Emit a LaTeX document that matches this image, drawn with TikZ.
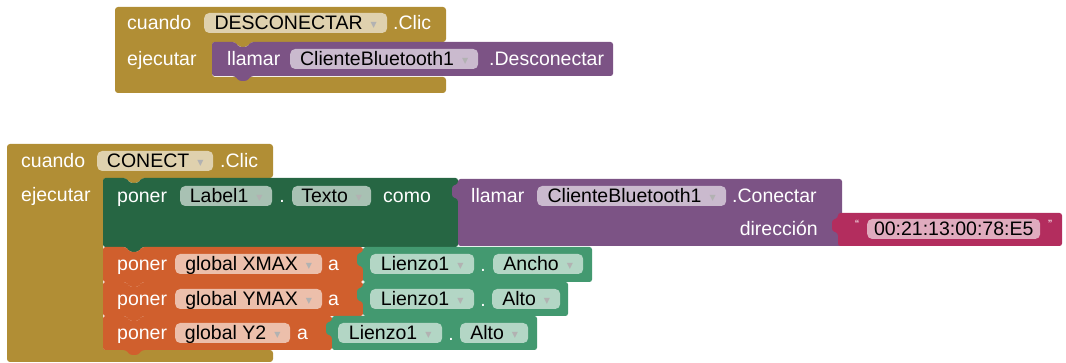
\documentclass[tikz,border=0pt]{standalone}
\usepackage{fontspec}
\setmainfont{Liberation Sans}
\newfontfamily\dv{DejaVu Sans}
\definecolor{gold}{HTML}{B18E35}
\definecolor{purp}{HTML}{7C5385}
\definecolor{dgreen}{HTML}{266643}
\definecolor{lgreen}{HTML}{439970}
\definecolor{orng}{HTML}{D05F2D}
\definecolor{mag}{HTML}{B32D5E}
\newcommand{\ddarrow}{\hspace{8pt}\raisebox{2pt}{\dv\fontsize{8}{8}\selectfont\textcolor{black!30}{▼}}}
% statement block: x0,y0,x1,y1,colour (y grows downward)
\newcommand{\stmtblk}[5]{\fill[#5, rounded corners=2.5pt] (#1,#2) -- ({#1+23},#2) -- ({#1+27},{#2+5}) -- ({#1+35},{#2+5}) -- ({#1+39},#2) -- (#3,#2) -- (#3,#4) -- ({#1+39},#4) -- ({#1+35},{#4+5}) -- ({#1+27},{#4+5}) -- ({#1+23},#4) -- (#1,#4) -- cycle;}
% value block with left tab
\newcommand{\valblk}[5]{\fill[#5, rounded corners=2.5pt] (#1,#2) -- (#3,#2) -- (#3,#4) -- (#1,#4) -- (#1,{#2+20}) -- ({#1-6},{#2+18}) -- ({#1-6},{#2+7}) -- (#1,{#2+5}) -- cycle;}
\begin{document}
\begin{tikzpicture}[x=1pt,y=-1pt,
  every node/.style={font=\fontsize{19.5}{22}\selectfont, inner sep=0pt, text height=15pt, text depth=2pt},
  lbl/.style={text=white, anchor=west},
  dot/.style={text=white, anchor=center},
  dd/.style={fill=white, fill opacity=0.6, text opacity=1, text=black, rounded corners=5pt, minimum height=20pt, anchor=west},
  qt/.style={text=white, anchor=center, font=\fontsize{12}{12}\selectfont, text height=8pt, text depth=0pt}]
\useasboundingbox (0,0) rectangle (1066,363);

% ---------- block 1 ----------
\fill[gold, rounded corners=3pt] (115,7) -- (446,7) -- (446,42) -- (251,42) -- (247,47) -- (239,47) -- (235,42) -- (212,42) -- (212,77) -- (446,77) -- (446,93) -- (115,93) -- cycle;
\stmtblk{212}{42}{613}{76}{purp}

\node[lbl] (c1) at (127,23) {cuando};
\node[dd, minimum width=183pt] (d1) at (204,23) {DESCONECTAR\ddarrow};
\node[lbl] (clic1) at (393,23) {.Clic};
\node[lbl] (e1) at (127,59) {ejecutar};
\node[lbl] (ll1) at (227,59) {llamar};
\node[dd, minimum width=188pt] (d2) at (290,59) {ClienteBluetooth1\ddarrow};
\node[lbl] (des1) at (489,59) {.Desconectar};

% ---------- block 2 ----------
\fill[gold, rounded corners=3pt] (7,144) -- (273,144) -- (273,178) -- (142,178) -- (138,183) -- (130,183) -- (126,178) -- (103,178) -- (103,350) -- (273,350) -- (273,362) -- (7,362) -- cycle;
\stmtblk{103}{178}{458}{247}{dgreen}
\valblk{458}{179}{842}{246}{purp}
\valblk{838}{213}{1062}{246}{mag}
\stmtblk{103}{247}{363}{282}{orng}
\valblk{363}{247}{592}{282}{lgreen}
\stmtblk{103}{282}{363}{316}{orng}
\valblk{363}{282}{568}{316}{lgreen}
\stmtblk{103}{316}{332}{350}{orng}
\valblk{332}{316}{537}{350}{lgreen}

\node[lbl] (c2) at (21,161) {cuando};
\node[dd, minimum width=116pt] (d3) at (97,161) {CONECT\ddarrow};
\node[lbl] (clic2) at (220,161) {.Clic};
\node[lbl] (e2) at (21,195) {ejecutar};

\node[lbl] (p0) at (117,196) {poner};
\node[dd, minimum width=92pt] (d4) at (180,196) {Label1\ddarrow};
\node[dot] (dt0) at (282,196) {.};
\node[dd, minimum width=79pt] (d5) at (292,196) {Texto\ddarrow};
\node[lbl] (como) at (383,196) {como};

\node[lbl] (ll2) at (471,196) {llamar};
\node[dd, minimum width=189pt] (d6) at (537,196) {ClienteBluetooth1\ddarrow};
\node[lbl] (con) at (732,196) {.Conectar};
\node[lbl, anchor=east] (dir) at (818,229) {dirección};

\node[qt] (q1) at (857,225) {“};
\node[dd, minimum width=173pt] (d7) at (867,229) {00:21:13:00:78:E5};
\node[qt] (q2) at (1050,225) {”};

\node[lbl] (p1) at (117,264) {poner};
\node[dd, minimum width=147pt] (d8) at (175,264) {global XMAX\ddarrow};
\node[lbl] (a1) at (328,264) {a};
\node[dd, minimum width=104pt] (d9) at (370,264) {Lienzo1\ddarrow};
\node[dot] (dt1) at (483,265) {.};
\node[dd, minimum width=90pt] (d10) at (493,264) {Ancho\ddarrow};

\node[lbl] (p2) at (117,299) {poner};
\node[dd, minimum width=147pt] (d11) at (175,299) {global YMAX\ddarrow};
\node[lbl] (a2) at (328,299) {a};
\node[dd, minimum width=104pt] (d12) at (370,299) {Lienzo1\ddarrow};
\node[dot] (dt2) at (483,300) {.};
\node[dd, minimum width=68pt] (d13) at (492,299) {Alto\ddarrow};

\node[lbl] (p3) at (117,333) {poner};
\node[dd, minimum width=115pt] (d14) at (175,333) {global Y2\ddarrow};
\node[lbl] (a3) at (297,333) {a};
\node[dd, minimum width=104pt] (d15) at (338,333) {Lienzo1\ddarrow};
\node[dot] (dt3) at (451,334) {.};
\node[dd, minimum width=68pt] (d16) at (460,333) {Alto\ddarrow};
\end{tikzpicture}
\end{document}
